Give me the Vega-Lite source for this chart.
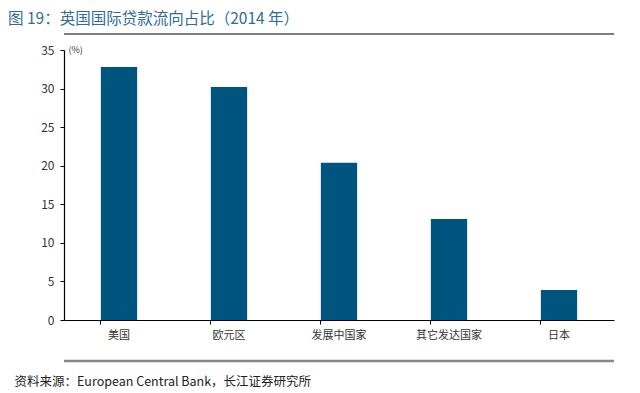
{
  "$schema": "https://vega.github.io/schema/vega-lite/v6.json",
  "width": 550,
  "height": 270,
  "autosize": {"type": "none"},
  "padding": {"left": 64, "top": 50, "right": 26, "bottom": 73},
  "background": "white",
  "config": {
    "font": "Noto Sans CJK SC",
    "view": {"stroke": null},
    "axisY": {
      "values": [0, 5, 10, 15, 20, 25, 30, 35],
      "labelOverlap": false,
      "labelFlush": false,
      "grid": false,
      "titleAngle": 0,
      "titleX": 4,
      "titleY": -1,
      "titleAlign": "left",
      "titleBaseline": "middle",
      "titleFontSize": 9,
      "titleFontWeight": "normal",
      "titleColor": "#333333",
      "labelFontSize": 12,
      "labelColor": "#333333",
      "labelPadding": 6,
      "domainColor": "#000000",
      "domainWidth": 1.2,
      "tickColor": "#000000",
      "tickSize": 4
    }
  },
  "title": {
    "text": "图 19：英国国际贷款流向占比（2014 年）",
    "anchor": "start",
    "frame": "group",
    "offset": 6,
    "dx": -56,
    "fontSize": 15.5,
    "fontWeight": "normal",
    "color": "#2f6c97",
    "font": "Noto Sans CJK SC"
  },
  "datasets": {
    "bars": [
      {"region": "美国", "share": 32.8},
      {"region": "欧元区", "share": 30.2},
      {"region": "发展中国家", "share": 20.4},
      {"region": "其它发达国家", "share": 13.1},
      {"region": "日本", "share": 3.9}
    ],
    "lines": [
      {"pos": 37.07, "kind": "top"},
      {"pos": -5.3, "kind": "bottom"}
    ]
  },
  "layer": [
    {
      "data": {"name": "bars"},
      "mark": {"type": "bar", "color": "#00557f"},
      "encoding": {
        "x": {
          "field": "region",
          "type": "nominal",
          "sort": null,
          "scale": {"paddingInner": 0.67, "paddingOuter": 0.335},
          "axis": {
            "title": "资料来源：European Central Bank，长江证券研究所",
            "titleAnchor": null,
            "titleAlign": "left",
            "titleBaseline": "middle",
            "titleX": -50,
            "titleY": 61,
            "titleFontSize": 12.5,
            "titleFontWeight": "normal",
            "titleColor": "#222222",
            "labelAngle": 0,
            "labelFontSize": 11,
            "labelColor": "#333333",
            "labelPadding": 5,
            "domainColor": "#000000",
            "domainWidth": 1.2,
            "tickColor": "#000000",
            "tickSize": 4,
            "bandPosition": 0
          }
        },
        "y": {
          "field": "share",
          "type": "quantitative",
          "scale": {"domain": [0, 35], "nice": false},
          "axis": {"title": "(%)", "values": [0, 5, 10, 15, 20, 25, 30, 35]}
        }
      }
    },
    {
      "data": {"name": "lines"},
      "mark": {"type": "rule", "clip": false},
      "encoding": {
        "y": {
          "field": "pos",
          "type": "quantitative",
          "axis": {"title": "(%)", "values": [0, 5, 10, 15, 20, 25, 30, 35]}
        },
        "color": {
          "field": "kind",
          "type": "nominal",
          "scale": {"domain": ["top", "bottom"], "range": ["#555555", "#888888"]},
          "legend": null
        },
        "strokeWidth": {
          "field": "kind",
          "type": "nominal",
          "scale": {"domain": ["top", "bottom"], "range": [1.5, 2.5]},
          "legend": null
        }
      }
    }
  ]
}
